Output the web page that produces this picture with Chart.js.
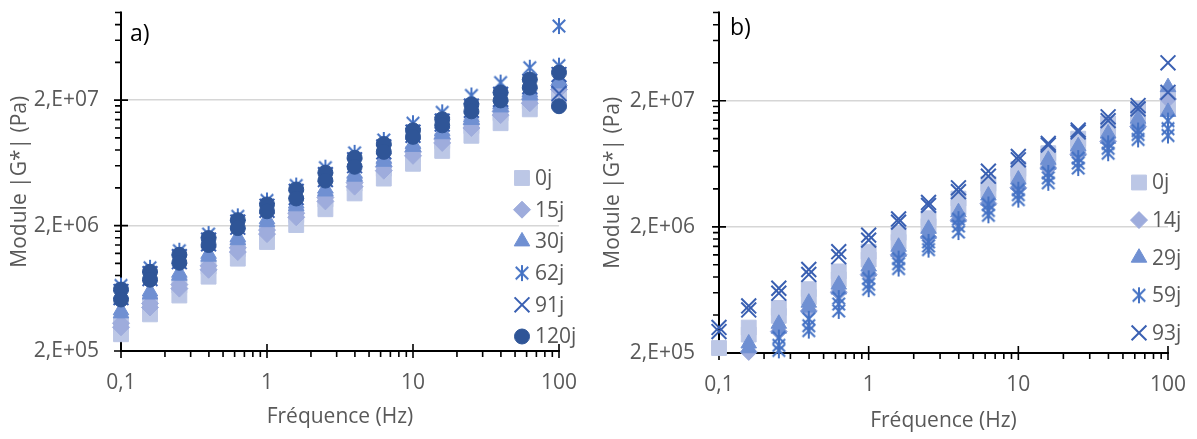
<!DOCTYPE html>
<html lang="fr">
<head>
<meta charset="utf-8">
<title>Module |G*| en fonction de la fréquence</title>
<script src="https://cdn.jsdelivr.net/npm/chart.js@4.4.1/dist/chart.umd.min.js"></script>
<style>
html,body{margin:0;padding:0;background:#ffffff;overflow:hidden;}
#wrap{position:relative;width:1197px;height:439px;}
#ca{position:absolute;left:0;top:0;}
#cb{position:absolute;left:598px;top:0;}
</style>
</head>
<body>
<div id="wrap">
<canvas id="ca" width="598" height="439"></canvas>
<canvas id="cb" width="599" height="439"></canvas>
</div>
<script>
// ---------- shared axis data ----------
const freq = [0.1, 0.158, 0.251, 0.398, 0.631, 1, 1.585, 2.512, 3.981, 6.31, 10, 15.85, 25.12, 39.81, 63.1, 100];
const xTickValues = [0.1, 1, 10, 100];
const xTickLabels = ['0,1', '1', '10', '100'];
const yTickValues = [2e5, 2e6, 2e7];
const yTickLabels = ['2,E+05', '2,E+06', '2,E+07'];
const yTitle = 'Module |G*| (Pa)';
const xTitle = 'Fréquence (Hz)';

// ---------- panel a) ----------
const seriesA = ['0j', '15j', '30j', '62j', '91j', '120j'];
const a0j_r1   = [3.27e5,4.70e5,6.65e5,9.39e5,1.30e6,1.77e6,2.42e6,3.23e6,4.32e6,5.68e6,7.46e6,9.45e6,1.24e7,1.57e7,1.96e7,2.35e7];
const a0j_r2   = [2.72e5,3.92e5,5.54e5,7.83e5,1.09e6,1.48e6,2.02e6,2.70e6,3.61e6,4.74e6,6.22e6,7.88e6,1.04e7,1.31e7,1.69e7,1.96e7];
const a15j_r1  = [3.33e5,4.79e5,6.77e5,9.56e5,1.33e6,1.84e6,2.51e6,3.35e6,4.40e6,5.89e6,7.74e6,9.80e6,1.29e7,1.63e7,2.03e7,2.62e7];
const a15j_r2  = [3.09e5,4.45e5,6.29e5,8.89e5,1.23e6,1.71e6,2.33e6,3.12e6,4.09e6,5.48e6,7.20e6,9.12e6,1.20e7,1.52e7,1.89e7,2.43e7];
const a30j_r1  = [4.22e5,5.96e5,8.41e5,1.19e6,1.62e6,2.25e6,3.01e6,3.95e6,5.19e6,6.82e6,8.95e6,1.13e7,1.46e7,1.85e7,2.30e7,2.87e7];
const a30j_r2  = [3.99e5,5.64e5,7.97e5,1.13e6,1.53e6,2.13e6,2.85e6,3.74e6,4.91e6,6.45e6,8.48e6,1.07e7,1.39e7,1.75e7,2.18e7,2.72e7];
const a62j_r1  = [6.65e5,9.22e5,1.26e6,1.71e6,2.37e6,3.17e6,4.17e6,5.79e6,7.60e6,9.63e6,1.31e7,1.60e7,2.18e7,2.76e7,3.63e7,7.80e7];
const a62j_r2  = [6.07e5,8.41e5,1.15e6,1.56e6,2.17e6,2.90e6,3.81e6,5.19e6,6.82e6,8.63e6,1.13e7,1.39e7,1.82e7,2.26e7,2.87e7,3.77e7];
const a91j_r1  = [5.96e5,8.26e5,1.13e6,1.53e6,2.13e6,2.85e6,3.74e6,5.09e6,6.69e6,8.48e6,1.11e7,1.36e7,1.79e7,2.22e7,2.82e7,2.26e7];
const a91j_r2  = [5.34e5,7.55e5,1.03e6,1.43e6,1.94e6,2.65e6,3.35e6,4.65e6,6.00e6,7.74e6,1.05e7,1.29e7,1.66e7,2.03e7,2.57e7,3.20e7];
const a120j_r1 = [6.18e5,8.57e5,1.17e6,1.59e6,2.21e6,2.95e6,3.88e6,5.28e6,6.94e6,8.95e6,1.15e7,1.41e7,1.85e7,2.30e7,2.92e7,3.32e7];
const a120j_r2 = [5.15e5,7.41e5,1.01e6,1.40e6,1.91e6,2.60e6,3.29e6,4.57e6,5.89e6,7.74e6,1.02e7,1.26e7,1.63e7,1.99e7,2.52e7,1.79e7];

// ---------- panel b) ---------- (null = below the 2,E+05 axis minimum, not shown)
const seriesB = ['0j', '14j', '29j', '59j', '93j'];
const b0j_r1  = [2.19e5,3.18e5,4.55e5,6.41e5,8.86e5,1.27e6,1.79e6,2.34e6,3.35e6,4.39e6,5.75e6,7.67e6,1.00e7,1.32e7,1.72e7,2.26e7];
const b0j_r2  = [null,2.80e5,3.94e5,5.55e5,7.67e5,1.10e6,1.52e6,2.03e6,2.85e6,3.87e6,5.07e6,6.76e6,8.70e6,1.14e7,1.44e7,1.72e7];
const b14j_r1 = [null,2.04e5,2.96e5,4.31e5,6.07e5,8.39e5,1.20e6,1.66e6,2.26e6,3.06e6,4.08e6,5.85e6,7.53e6,9.52e6,1.25e7,2.06e7];
const b29j_r1 = [null,2.38e5,3.41e5,5.01e5,6.97e5,9.69e5,1.39e6,1.93e6,2.61e6,3.54e6,4.74e6,6.80e6,8.70e6,1.10e7,1.44e7,2.56e7];
const b29j_r2 = [null,2.18e5,3.12e5,4.58e5,6.37e5,8.86e5,1.27e6,1.76e6,2.38e6,3.23e6,4.34e6,6.21e6,7.95e6,1.00e7,1.32e7,1.63e7];
const b59j_r1 = [null,null,2.65e5,3.73e5,5.45e5,7.81e5,1.12e6,1.52e6,2.30e6,3.01e6,3.94e6,5.35e6,7.01e6,9.18e6,1.16e7,1.39e7];
const b59j_r2 = [null,null,2.30e5,3.29e5,4.89e5,7.01e5,1.02e6,1.41e6,2.03e6,2.70e6,3.60e6,4.89e6,6.41e6,8.39e6,1.08e7,1.20e7];
const b59j_r3 = [null,null,2.10e5,3.01e5,4.31e5,6.41e5,9.35e5,1.32e6,1.82e6,2.47e6,3.29e6,4.47e6,5.85e6,7.67e6,9.86e6,1.06e7];
const b93j_r1 = [3.19e5,4.72e5,6.52e5,9.18e5,1.27e6,1.72e6,2.31e6,3.12e6,4.08e6,5.52e6,7.22e6,9.18e6,1.17e7,1.49e7,1.83e7,3.99e7];
const b93j_r2 = [2.96e5,4.39e5,5.96e5,8.39e5,1.16e6,1.57e6,2.18e6,2.96e6,3.80e6,5.04e6,6.80e6,8.90e6,1.13e7,1.39e7,1.72e7,2.33e7];

const repsA = [[a0j_r1,a0j_r2],[a15j_r1,a15j_r2],[a30j_r1,a30j_r2],[a62j_r1,a62j_r2],[a91j_r1,a91j_r2],[a120j_r1,a120j_r2]];
const repsB = [[b0j_r1,b0j_r2],[b14j_r1],[b29j_r1,b29j_r2],[b59j_r1,b59j_r2,b59j_r3],[b93j_r1,b93j_r2]];

// ---------- styles ----------
const FONT = "'Open Sans', 'Noto Sans', sans-serif";
const FS = 21;
const TXT = '#595959';
const C = ['#BCC7E6', '#9EACDC', '#7090D2', '#4472C4', '#3A60B2', '#2F5597'];

function makeAsterisk(color, r, lw) {
  const s = Math.ceil(2 * r + lw + 2);
  const c = document.createElement('canvas');
  c.width = s; c.height = s;
  const g = c.getContext('2d');
  g.strokeStyle = color; g.lineWidth = lw;
  const m = s / 2, d = r * 0.78;
  g.beginPath();
  g.moveTo(m, m - r); g.lineTo(m, m + r);
  g.moveTo(m - d, m - d); g.lineTo(m + d, m + d);
  g.moveTo(m + d, m - d); g.lineTo(m - d, m + d);
  g.stroke();
  return c;
}

const STY = [
  {style: 'rect',     r: 10.5, color: C[0], bw: 1},
  {style: 'rectRot',  r: 8.5, color: C[1], bw: 1},
  {style: 'triangle', r: 9,   color: C[2], bw: 1},
  {style: makeAsterisk(C[3], 8, 2), r: 8, color: C[3], bw: 0},
  {style: 'crossRot', r: 10.5, color: C[4], bw: 2},
  {style: 'circle',   r: 7.5, color: C[5], bw: 1}
];
const STY_A = STY;
const STY_B = [STY[0], STY[1], STY[2], STY[3], STY[4]];

function buildDatasets(names, reps, styles) {
  return names.map((name, i) => {
    const pts = [];
    reps[i].forEach(rep => rep.forEach((v, j) => { if (v !== null) pts.push({x: freq[j], y: v}); }));
    const st = styles[i];
    return {
      label: name, data: pts, showLine: false,
      pointStyle: st.style, pointRadius: st.r, pointHoverRadius: st.r,
      pointBackgroundColor: st.color, pointBorderColor: st.color, pointBorderWidth: st.bw,
      order: names.length - 1 - i, clip: false
    };
  });
}

function drawMarker(ctx, st, x, y) {
  ctx.save();
  ctx.fillStyle = st.color; ctx.strokeStyle = st.color; ctx.lineWidth = st.bw;
  const r = st.r;
  if (typeof st.style !== 'string') {
    ctx.drawImage(st.style, x - st.style.width / 2, y - st.style.height / 2);
    ctx.restore(); return;
  }
  ctx.beginPath();
  if (st.style === 'rect') {
    const s = Math.SQRT1_2 * r; ctx.rect(x - s, y - s, 2 * s, 2 * s);
  } else if (st.style === 'rectRot') {
    ctx.moveTo(x, y - r); ctx.lineTo(x + r, y); ctx.lineTo(x, y + r); ctx.lineTo(x - r, y); ctx.closePath();
  } else if (st.style === 'triangle') {
    ctx.moveTo(x, y - r); ctx.lineTo(x + 0.866 * r, y + 0.5 * r); ctx.lineTo(x - 0.866 * r, y + 0.5 * r); ctx.closePath();
  } else if (st.style === 'circle') {
    ctx.arc(x, y, r, 0, Math.PI * 2); ctx.closePath();
  } else if (st.style === 'crossRot') {
    const d = Math.SQRT1_2 * r;
    ctx.moveTo(x - d, y - d); ctx.lineTo(x + d, y + d);
    ctx.moveTo(x + d, y - d); ctx.lineTo(x - d, y + d);
  }
  if (st.style !== 'crossRot') ctx.fill();
  if (st.bw > 0) ctx.stroke();
  ctx.restore();
}

// Excel-like axes: crossing major ticks, outside minor ticks
const excelAxes = {
  id: 'excelAxes',
  beforeDatasetsDraw(chart) {
    const {ctx, chartArea: a, scales: {x, y}} = chart;
    ctx.save();
    ctx.strokeStyle = '#000'; ctx.lineWidth = 2;
    ctx.beginPath();
    ctx.moveTo(a.left, a.top - 1); ctx.lineTo(a.left, a.bottom + 1);
    ctx.moveTo(a.left - 1, a.bottom); ctx.lineTo(a.right + 1, a.bottom);
    ctx.stroke();
    ctx.lineWidth = 1.6;
    ctx.beginPath();
    xTickValues.forEach(v => { const px = x.getPixelForValue(v); ctx.moveTo(px, a.bottom - 7); ctx.lineTo(px, a.bottom + 7); });
    [0.1, 1, 10].forEach(b => { for (let k = 2; k <= 9; k++) { const px = x.getPixelForValue(b * k); ctx.moveTo(px, a.bottom); ctx.lineTo(px, a.bottom + 6); } });
    yTickValues.forEach(v => { const py = y.getPixelForValue(v); ctx.moveTo(a.left - 7, py); ctx.lineTo(a.left + 7, py); });
    yTickValues.forEach(b => { for (let k = 2; k <= 9; k++) { const v = b * k; if (v > y.max * 1.0001) break; const py = y.getPixelForValue(v); ctx.moveTo(a.left - 6, py); ctx.lineTo(a.left, py); } });
    ctx.stroke();
    ctx.restore();
  },
  afterDraw(chart, args, opts) {
    const {ctx} = chart;
    ctx.save();
    ctx.fillStyle = '#000'; ctx.font = '23px ' + FONT;
    ctx.textAlign = 'left'; ctx.textBaseline = 'middle';
    ctx.fillText(opts.letter, opts.letterX, opts.letterY);
    ctx.font = FS + 'px ' + FONT;
    chart.data.datasets.forEach((ds, i) => {
      const yy = opts.legY + i * opts.legStep;
      drawMarker(ctx, opts.styles[i], opts.legMX, yy);
      ctx.fillStyle = TXT;
      ctx.fillText(ds.label, opts.legTX, yy + 1);
    });
    ctx.restore();
  }
};

function zeroPad(s) { s.paddingTop = 0; s.paddingBottom = 0; s.paddingLeft = 0; s.paddingRight = 0; }

function makeChart(id, names, reps, styles, cfg) {
  return new Chart(document.getElementById(id), {
    type: 'scatter',
    data: {datasets: buildDatasets(names, reps, styles)},
    plugins: [excelAxes],
    options: {
      responsive: false, animation: false, devicePixelRatio: 1,
      layout: {padding: {left: 0, right: cfg.padR, top: cfg.padT, bottom: 0}},
      plugins: {
        legend: {display: false}, tooltip: {enabled: false},
        excelAxes: {letter: cfg.letter, letterX: cfg.letterX, letterY: cfg.letterY,
          legMX: cfg.legMX, legTX: cfg.legTX, legY: cfg.legY, legStep: cfg.legStep, styles: styles}
      },
      scales: {
        x: {
          type: 'logarithmic', position: 'bottom', min: 0.1, max: 100,
          afterBuildTicks: s => { s.ticks = xTickValues.map(v => ({value: v})); },
          afterFit: s => { s.height = cfg.xH; zeroPad(s); },
          ticks: {callback: (v, i) => xTickLabels[i], color: TXT, font: {family: FONT, size: FS},
                  padding: 19, maxRotation: 0, autoSkip: false},
          grid: {display: false, drawTicks: false}, border: {display: false},
          title: {display: true, text: xTitle, color: TXT, font: {family: FONT, size: FS},
                  padding: {top: 0, bottom: cfg.xTitlePad}}
        },
        y: {
          type: 'logarithmic', position: 'left', min: 2e5, max: 1e8,
          afterBuildTicks: s => { s.ticks = yTickValues.map(v => ({value: v})); },
          afterFit: s => { s.width = 121; zeroPad(s); },
          ticks: {callback: (v, i) => yTickLabels[i], color: TXT, font: {family: FONT, size: FS},
                  padding: cfg.yTickPad, autoSkip: false},
          grid: {drawTicks: false, color: '#d6d6d6', lineWidth: 1.6}, border: {display: false},
          title: {display: true, text: yTitle, color: TXT, font: {family: FONT, size: FS},
                  padding: {top: cfg.yTitlePad, bottom: 0}}
        }
      }
    }
  });
}

makeChart('ca', seriesA, repsA, STY_A, {
  padR: 39, padT: 10, xH: 88, xTitlePad: 9, yTickPad: 22, yTitlePad: 7,
  letter: 'a)', letterX: 130, letterY: 34,
  legMX: 522, legTX: 535, legY: 178, legStep: 31.7
});
makeChart('cb', seriesB, repsB, STY_B, {
  padR: 29, padT: 7, xH: 86, xTitlePad: 5, yTickPad: 24, yTitlePad: 2,
  letter: 'b)', letterX: 132, letterY: 28,
  legMX: 541, legTX: 554, legY: 182.5, legStep: 37.6
});
</script>
</body>
</html>
